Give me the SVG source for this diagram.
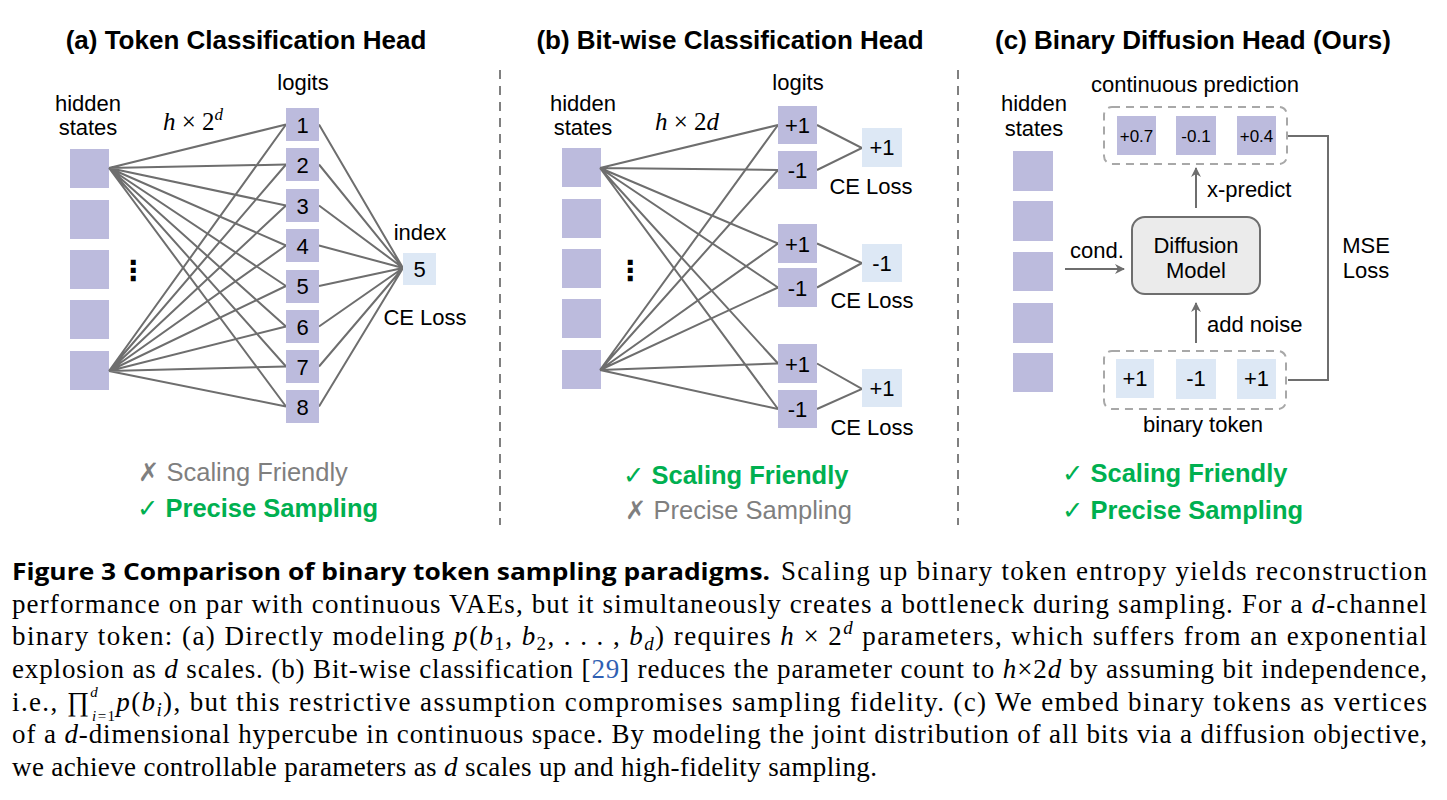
<svg xmlns="http://www.w3.org/2000/svg" width="1447" height="800" viewBox="0 0 1447 800">
<defs>
<style>
.title{font-family:"Liberation Sans",Arial,sans-serif;font-weight:bold;font-size:26px;fill:#000;text-anchor:middle}
.lbl{font-family:"Liberation Sans",Arial,sans-serif;font-size:22px;fill:#000;text-anchor:middle}
.lbls{font-family:"Liberation Sans",Arial,sans-serif;font-size:22px;fill:#000;text-anchor:start}
.sm{font-family:"Liberation Sans",Arial,sans-serif;font-size:17px;fill:#000;text-anchor:middle}
.hs{fill:#bcbbdd}
.lg{fill:#bcbbdd}
.bt{fill:#dde8f5}
.ln{stroke:#6e6e6e;stroke-width:2;fill:none}
.div{stroke:#808080;stroke-width:2;stroke-dasharray:9 7;fill:none}
.dbox{stroke:#a8a8a8;stroke-width:2;stroke-dasharray:8 6;fill:none}
.good{font-family:"Liberation Sans",Arial,sans-serif;font-weight:bold;font-size:25.5px;fill:#00b050}
.bad{font-family:"Liberation Sans",Arial,sans-serif;font-size:25.5px;fill:#7f7f7f}
.sym{font-family:"DejaVu Sans",sans-serif;font-weight:normal}
.math{font-family:"Liberation Serif","Times New Roman",serif;font-size:25px;fill:#000}
.cap{font-family:"Liberation Serif","Times New Roman",serif;font-size:27px;fill:#000}
.capb{font-family:"Open Sans","Liberation Sans",sans-serif;font-weight:bold;font-size:23px;fill:#000}
.it{font-style:italic}
.dots{font-family:"DejaVu Sans",sans-serif;font-size:28px;font-weight:bold;fill:#000;text-anchor:middle}
</style>
<marker id="ah" markerWidth="12" markerHeight="12" refX="10" refY="6" orient="auto" markerUnits="userSpaceOnUse">
<path d="M1,1 L11,6 L1,11 L4,6 z" fill="#6e6e6e"/>
</marker>
</defs>
<rect width="1447" height="800" fill="#fff"/>

<!-- dividers -->
<line class="div" x1="500" y1="70" x2="500" y2="525"/>
<line class="div" x1="958" y1="70" x2="958" y2="525"/>

<!-- Panel a -->
<g id="panel-a">
<text class="title" x="246" y="49">(a) Token Classification Head</text>
<text class="lbl" x="88" y="111">hidden</text>
<text class="lbl" x="88" y="135">states</text>
<text class="lbl" x="303" y="90">logits</text>
<text class="math" x="163" y="130"><tspan class="it">h</tspan> × 2<tspan class="it" font-size="17" dy="-10">d</tspan></text>
<text class="lbl" x="420" y="240">index</text>
<text class="lbl" x="425" y="325">CE Loss</text>
<text class="dots" x="133" y="280">⋮</text>
</g>
<g id="a-hidden">
<rect class="hs" x="70" y="149" width="39" height="39"/>
<rect class="hs" x="70" y="200" width="39" height="39"/>
<rect class="hs" x="70" y="250" width="39" height="39"/>
<rect class="hs" x="70" y="300" width="39" height="39"/>
<rect class="hs" x="70" y="351" width="39" height="39"/>
</g>
<g id="a-connectors">
<path class="ln" d="M109,168 L286,124.5 M109,168 L286,164.5 M109,168 L286,205.5 M109,168 L286,245.5 M109,168 L286,286 M109,168 L286,326.5 M109,168 L286,366.5 M109,168 L286,406.5"/>
<path class="ln" d="M109,371 L286,124.5 M109,371 L286,164.5 M109,371 L286,205.5 M109,371 L286,245.5 M109,371 L286,286 M109,371 L286,326.5 M109,371 L286,366.5 M109,371 L286,406.5"/>
<path class="ln" d="M319,124.5 L403,268 M319,164.5 L403,268 M319,205.5 L403,268 M319,245.5 L403,268 M319,286 L403,268 M319,326.5 L403,268 M319,366.5 L403,268 M319,406.5 L403,268"/>
</g>
<g id="a-logits">
<rect class="lg" x="286" y="108" width="33" height="33"/><text class="lbl" x="302.5" y="132.5">1</text>
<rect class="lg" x="286" y="148" width="33" height="33"/><text class="lbl" x="302.5" y="172.5">2</text>
<rect class="lg" x="286" y="189" width="33" height="33"/><text class="lbl" x="302.5" y="213.5">3</text>
<rect class="lg" x="286" y="229" width="33" height="33"/><text class="lbl" x="302.5" y="253.5">4</text>
<rect class="lg" x="286" y="270" width="33" height="33"/><text class="lbl" x="302.5" y="294">5</text>
<rect class="lg" x="286" y="310" width="33" height="33"/><text class="lbl" x="302.5" y="334.5">6</text>
<rect class="lg" x="286" y="350" width="33" height="33"/><text class="lbl" x="302.5" y="374.5">7</text>
<rect class="lg" x="286" y="390" width="33" height="33"/><text class="lbl" x="302.5" y="414.5">8</text>
</g>
<g id="a-index">
<rect class="bt" x="403" y="253" width="33" height="32"/><text class="lbl" x="419.5" y="277">5</text>
</g>
<g id="a-props">
<text class="bad" x="138" y="481"><tspan class="sym">✗</tspan> Scaling Friendly</text>
<text class="good" x="137" y="517"><tspan class="sym">✓</tspan> Precise Sampling</text>
</g>

<!-- Panel b -->
<g id="panel-b">
<text class="title" x="730" y="49">(b) Bit-wise Classification Head</text>
<text class="lbl" x="583" y="111">hidden</text>
<text class="lbl" x="583" y="135">states</text>
<text class="lbl" x="798" y="90">logits</text>
<text class="math" x="655" y="130"><tspan class="it">h</tspan> × 2<tspan class="it">d</tspan></text>
<text class="dots" x="630" y="280">⋮</text>
</g>
<g id="b-hidden">
<rect class="hs" x="562" y="148" width="39" height="39"/>
<rect class="hs" x="562" y="199" width="39" height="39"/>
<rect class="hs" x="562" y="249" width="39" height="39"/>
<rect class="hs" x="562" y="299" width="39" height="39"/>
<rect class="hs" x="562" y="350" width="39" height="39"/>
</g>
<g id="b-connectors">
<path class="ln" d="M600,168 L778,125 M600,168 L778,170 M600,168 L778,243.5 M600,168 L778,287.5 M600,168 L778,363.5 M600,168 L778,409"/>
<path class="ln" d="M600,370 L778,125 M600,370 L778,170 M600,370 L778,243.5 M600,370 L778,287.5 M600,370 L778,363.5 M600,370 L778,409"/>
<path class="ln" d="M817,125 L862,148 L817,170 M817,243.5 L862,263 L817,287.5 M817,363.5 L862,389 L817,409"/>
</g>
<g id="b-logits">
<rect class="lg" x="778" y="106" width="39" height="38"/><text class="lbl" x="797.5" y="133">+1</text>
<rect class="lg" x="778" y="151" width="39" height="38"/><text class="lbl" x="797.5" y="178">-1</text>
<rect class="lg" x="778" y="224" width="39" height="39"/><text class="lbl" x="797.5" y="251.5">+1</text>
<rect class="lg" x="778" y="268" width="39" height="39"/><text class="lbl" x="797.5" y="295.5">-1</text>
<rect class="lg" x="778" y="344" width="39" height="39"/><text class="lbl" x="797.5" y="371.5">+1</text>
<rect class="lg" x="778" y="390" width="39" height="38"/><text class="lbl" x="797.5" y="417">-1</text>
</g>
<g id="b-out1"><rect class="bt" x="862" y="128" width="40" height="39"/><text class="lbl" x="882" y="155">+1</text><text class="lbl" x="871" y="194">CE Loss</text></g>
<g id="b-out2"><rect class="bt" x="862" y="244" width="40" height="38"/><text class="lbl" x="882" y="271">-1</text><text class="lbl" x="872" y="308">CE Loss</text></g>
<g id="b-out3"><rect class="bt" x="862" y="369" width="40" height="38"/><text class="lbl" x="882" y="396">+1</text><text class="lbl" x="872" y="435">CE Loss</text></g>
<g id="b-props">
<text class="good" x="623" y="484"><tspan class="sym">✓</tspan> Scaling Friendly</text>
<text class="bad" x="625" y="519"><tspan class="sym">✗</tspan> Precise Sampling</text>
</g>

<!-- Panel c -->
<g id="panel-c">
<text class="title" x="1193" y="49">(c) Binary Diffusion Head (Ours)</text>
<text class="lbl" x="1034" y="111">hidden</text>
<text class="lbl" x="1034" y="136">states</text>
</g>
<g id="c-hidden">
<rect class="hs" x="1013" y="151" width="40" height="40"/>
<rect class="hs" x="1013" y="201" width="40" height="40"/>
<rect class="hs" x="1013" y="252" width="40" height="39"/>
<rect class="hs" x="1013" y="303" width="40" height="40"/>
<rect class="hs" x="1013" y="353" width="40" height="39"/>
</g>
<g id="c-prediction">
<text class="lbl" x="1195" y="92">continuous prediction</text>
<rect class="dbox" x="1104" y="107" width="183" height="57" rx="8"/>
<rect class="lg" x="1117" y="116" width="39" height="39"/><text class="sm" x="1136.5" y="141.5">+0.7</text>
<rect class="lg" x="1176" y="116" width="40" height="39"/><text class="sm" x="1196" y="141.5">-0.1</text>
<rect class="lg" x="1237" y="116" width="39" height="39"/><text class="sm" x="1256.5" y="141.5">+0.4</text>
</g>
<g id="c-model">
<rect x="1132" y="217" width="128" height="77" rx="13" fill="#ebebeb" stroke="#6e6e6e" stroke-width="2"/>
<text class="lbl" x="1196" y="253">Diffusion</text>
<text class="lbl" x="1196" y="278">Model</text>
</g>
<g id="c-token">
<rect class="dbox" x="1104" y="351" width="182" height="58" rx="8"/>
<rect class="bt" x="1116" y="359" width="38" height="39"/><text class="lbl" x="1135" y="386">+1</text>
<rect class="bt" x="1176" y="359" width="40" height="40"/><text class="lbl" x="1196" y="386">-1</text>
<rect class="bt" x="1237" y="359" width="39" height="40"/><text class="lbl" x="1256.5" y="386">+1</text>
<text class="lbl" x="1203" y="432">binary token</text>
</g>
<g id="c-connectors">
<line class="ln" x1="1196" y1="208" x2="1196" y2="168" marker-end="url(#ah)"/>
<line class="ln" x1="1196" y1="343" x2="1196" y2="303" marker-end="url(#ah)"/>
<line class="ln" x1="1065" y1="269" x2="1124" y2="269" marker-end="url(#ah)"/>
<path class="ln" d="M1288,136 H1328 V380 H1288"/>
<text class="lbls" x="1207" y="197">x-predict</text>
<text class="lbls" x="1207" y="332">add noise</text>
<text class="lbl" x="1097" y="258">cond.</text>
<text class="lbl" x="1366" y="253">MSE</text>
<text class="lbl" x="1366" y="278">Loss</text>
</g>
<g id="c-props">
<text class="good" x="1062" y="482"><tspan class="sym">✓</tspan> Scaling Friendly</text>
<text class="good" x="1062" y="519"><tspan class="sym">✓</tspan> Precise Sampling</text>
</g>

<!-- Caption -->
<g id="caption">
<text class="capb" x="12" y="580" textLength="758" lengthAdjust="spacingAndGlyphs">Figure 3  Comparison of binary token sampling paradigms.</text>
<text class="cap" x="781" y="580" textLength="646" lengthAdjust="spacing">Scaling up binary token entropy yields reconstruction</text>
<text class="cap" x="12" y="613" textLength="1415" lengthAdjust="spacing">performance on par with continuous VAEs, but it simultaneously creates a bottleneck during sampling. For a <tspan class="it">d</tspan>-channel</text>
<text class="cap" x="12" y="645" textLength="1415" lengthAdjust="spacing">binary token: (a) Directly modeling <tspan class="it">p</tspan>(<tspan class="it">b</tspan><tspan font-size="19" dy="5">1</tspan><tspan dy="-5">, </tspan><tspan class="it">b</tspan><tspan font-size="19" dy="5">2</tspan><tspan dy="-5">, . . . , </tspan><tspan class="it">b</tspan><tspan font-size="19" dy="5" class="it">d</tspan><tspan dy="-5">) requires </tspan><tspan class="it">h</tspan> × 2<tspan font-size="19" dy="-11" class="it">d</tspan><tspan dy="11"> parameters, which suffers from an exponential</tspan></text>
<text class="cap" x="12" y="678" textLength="1415" lengthAdjust="spacing">explosion as <tspan class="it">d</tspan> scales. (b) Bit-wise classification [<tspan fill="#2f5fb3">29</tspan>] reduces the parameter count to <tspan class="it">h</tspan>×2<tspan class="it">d</tspan> by assuming bit independence,</text>
<text class="cap" x="12" y="711" textLength="1415" lengthAdjust="spacing">i.e., ∏<tspan font-size="15" dy="-14" class="it">d</tspan><tspan font-size="15" dx="-7" dy="24"><tspan class="it">i</tspan>=1</tspan><tspan dy="-10" class="it">p</tspan>(<tspan class="it">b</tspan><tspan font-size="19" dy="5" class="it">i</tspan><tspan dy="-5">), but this restrictive assumption compromises sampling fidelity. (c) We embed binary tokens as vertices</tspan></text>
<text class="cap" x="12" y="743" textLength="1415" lengthAdjust="spacing">of a <tspan class="it">d</tspan>-dimensional hypercube in continuous space. By modeling the joint distribution of all bits via a diffusion objective,</text>
<text class="cap" x="12" y="776" textLength="865" lengthAdjust="spacing">we achieve controllable parameters as <tspan class="it">d</tspan> scales up and high-fidelity sampling.</text>
</g>
</svg>
